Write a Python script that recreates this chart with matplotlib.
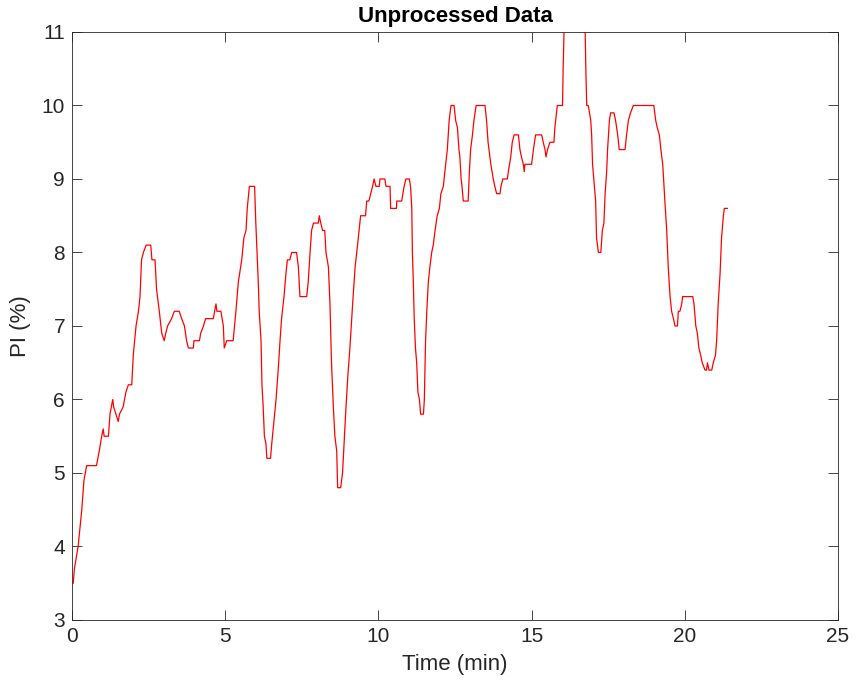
import matplotlib
matplotlib.use("Agg")
import numpy as np
from matplotlib import pyplot as plt

# PI trace (time in min, PI in %)
time_min = [
    0.04, 0.08, 0.2, 0.32, 0.39, 0.48, 0.8, 0.89, 0.97, 1.02, 1.05, 1.19, 1.24, 1.33, 1.36, 1.51,
    1.55, 1.67, 1.76, 1.84, 1.95, 2.0, 2.09, 2.17, 2.22, 2.27, 2.33, 2.42, 2.57, 2.61, 2.71, 2.76,
    2.85, 2.93, 3.01, 3.06, 3.12, 3.25, 3.34, 3.5, 3.58, 3.67, 3.74, 3.8, 3.96, 3.98, 4.16, 4.2,
    4.29, 4.36, 4.61, 4.7, 4.73, 4.86, 4.94, 4.97, 5.05, 5.26, 5.35, 5.43, 5.54, 5.61, 5.68, 5.72,
    5.79, 5.96, 6.0, 6.08, 6.11, 6.17, 6.2, 6.24, 6.28, 6.33, 6.36, 6.48, 6.52, 6.59, 6.66, 6.73,
    6.79, 6.84, 6.92, 6.98, 7.03, 7.11, 7.17, 7.33, 7.39, 7.44, 7.66, 7.71, 7.77, 7.82, 7.88, 8.04,
    8.07, 8.12, 8.18, 8.25, 8.29, 8.37, 8.42, 8.47, 8.53, 8.58, 8.64, 8.67, 8.77, 8.83, 8.88, 8.93,
    9.0, 9.07, 9.16, 9.24, 9.32, 9.42, 9.58, 9.62, 9.69, 9.75, 9.81, 9.86, 9.92, 10.03, 10.05, 10.21,
    10.25, 10.38, 10.4, 10.59, 10.6, 10.76, 10.8, 10.84, 10.9, 11.01, 11.05, 11.09, 11.11, 11.14, 11.17, 11.21,
    11.25, 11.29, 11.34, 11.38, 11.47, 11.5, 11.54, 11.58, 11.63, 11.68, 11.74, 11.79, 11.85, 11.92, 11.99, 12.04,
    12.12, 12.17, 12.25, 12.31, 12.37, 12.47, 12.52, 12.58, 12.63, 12.66, 12.7, 12.73, 12.77, 12.93, 12.97, 13.01,
    13.07, 13.12, 13.19, 13.48, 13.53, 13.58, 13.61, 13.67, 13.75, 13.8, 13.86, 13.97, 14.0, 14.06, 14.21, 14.24,
    14.32, 14.37, 14.43, 14.57, 14.62, 14.67, 14.73, 14.76, 14.78, 15.0, 15.06, 15.13, 15.33, 15.38, 15.44, 15.47,
    15.52, 15.6, 15.73, 15.76, 15.84, 16.01, 16.03, 16.07, 16.74, 16.77, 16.8, 16.85, 16.93, 16.96, 16.99, 17.05,
    17.09, 17.12, 17.18, 17.26, 17.31, 17.36, 17.4, 17.45, 17.48, 17.54, 17.58, 17.69, 17.74, 17.81, 17.86, 18.05,
    18.1, 18.16, 18.23, 18.32, 18.99, 19.05, 19.1, 19.17, 19.22, 19.28, 19.35, 19.41, 19.46, 19.52, 19.57, 19.63,
    19.68, 19.76, 19.79, 19.84, 19.9, 19.93, 20.26, 20.3, 20.36, 20.41, 20.46, 20.52, 20.57, 20.66, 20.71, 20.74,
    20.79, 20.88, 20.93, 21.0, 21.04, 21.09, 21.15, 21.2, 21.26, 21.29, 21.39,
]
pi_pct = [
    3.5, 3.7, 4.0, 4.5, 4.9, 5.1, 5.1, 5.3, 5.5, 5.6, 5.5, 5.5, 5.8, 6.0, 5.9, 5.7,
    5.8, 5.9, 6.1, 6.2, 6.2, 6.6, 7.0, 7.2, 7.4, 7.9, 8.0, 8.1, 8.1, 7.9, 7.9, 7.5,
    7.2, 6.9, 6.8, 6.9, 7.0, 7.1, 7.2, 7.2, 7.1, 7.0, 6.8, 6.7, 6.7, 6.8, 6.8, 6.9,
    7.0, 7.1, 7.1, 7.3, 7.2, 7.2, 7.0, 6.7, 6.8, 6.8, 7.2, 7.6, 7.9, 8.2, 8.3, 8.6,
    8.9, 8.9, 8.4, 7.6, 7.2, 6.8, 6.2, 5.9, 5.5, 5.4, 5.2, 5.2, 5.4, 5.7, 6.0, 6.4,
    6.8, 7.1, 7.4, 7.7, 7.9, 7.9, 8.0, 8.0, 7.8, 7.4, 7.4, 7.6, 8.0, 8.3, 8.4, 8.4,
    8.5, 8.4, 8.3, 8.3, 8.0, 7.8, 7.3, 6.5, 5.9, 5.5, 5.3, 4.8, 4.8, 5.0, 5.4, 5.8,
    6.3, 6.7, 7.3, 7.8, 8.1, 8.5, 8.5, 8.7, 8.7, 8.8, 8.9, 9.0, 8.9, 8.9, 9.0, 9.0,
    8.9, 8.9, 8.6, 8.6, 8.7, 8.7, 8.8, 8.9, 9.0, 9.0, 8.9, 8.6, 8.0, 7.6, 7.1, 6.7,
    6.5, 6.1, 6.0, 5.8, 5.8, 6.0, 6.8, 7.2, 7.6, 7.8, 8.0, 8.1, 8.3, 8.5, 8.6, 8.8,
    8.9, 9.1, 9.4, 9.8, 10.0, 10.0, 9.8, 9.7, 9.4, 9.3, 9.0, 8.9, 8.7, 8.7, 9.1, 9.4,
    9.6, 9.8, 10.0, 10.0, 9.8, 9.5, 9.4, 9.2, 9.0, 8.9, 8.8, 8.8, 8.9, 9.0, 9.0, 9.1,
    9.3, 9.5, 9.6, 9.6, 9.4, 9.3, 9.2, 9.1, 9.2, 9.2, 9.4, 9.6, 9.6, 9.5, 9.4, 9.3,
    9.4, 9.5, 9.5, 9.7, 10.0, 10.0, 10.5, 11.2, 11.2, 10.5, 10.0, 10.0, 9.8, 9.6, 9.2, 8.9,
    8.7, 8.2, 8.0, 8.0, 8.3, 8.4, 8.8, 9.1, 9.4, 9.8, 9.9, 9.9, 9.8, 9.6, 9.4, 9.4,
    9.6, 9.8, 9.9, 10.0, 10.0, 9.8, 9.7, 9.6, 9.4, 9.2, 8.7, 8.3, 7.8, 7.4, 7.2, 7.1,
    7.0, 7.0, 7.2, 7.2, 7.3, 7.4, 7.4, 7.3, 7.0, 6.9, 6.7, 6.6, 6.5, 6.4, 6.4, 6.5,
    6.4, 6.4, 6.5, 6.6, 6.8, 7.3, 7.7, 8.2, 8.5, 8.6, 8.6,
]

plt.rcParams['font.family'] = ['Liberation Sans Narrow', 'Liberation Sans', 'DejaVu Sans']

fig = plt.figure(figsize=(8.6, 6.85), dpi=100)
ax = fig.add_axes([0.0837, 0.0949, 0.8907, 0.8584])

ax.plot(time_min, pi_pct, color='#ff0000', lw=0.9)

ax.set_xlim(0, 25)
ax.set_ylim(3, 11)
ax.set_xticks(np.arange(0, 26, 5))
ax.set_yticks(np.arange(3, 12, 1))

axis_col = '#262626'
for s in ax.spines.values():
    s.set_color(axis_col)
    s.set_linewidth(0.6)
ax.tick_params(direction='in', top=True, right=True, length=7, width=0.6,
               color=axis_col, labelcolor=axis_col, labelsize=15, pad=5)

ax.set_xlabel('Time (min)', fontsize=16, color=axis_col, labelpad=6)
ax.set_ylabel('PI (%)', fontsize=16, color=axis_col, labelpad=8)
ax.set_title('Unprocessed Data', fontsize=16, fontweight='bold', color='black', pad=7)

fig.savefig('out.png', dpi=100)
